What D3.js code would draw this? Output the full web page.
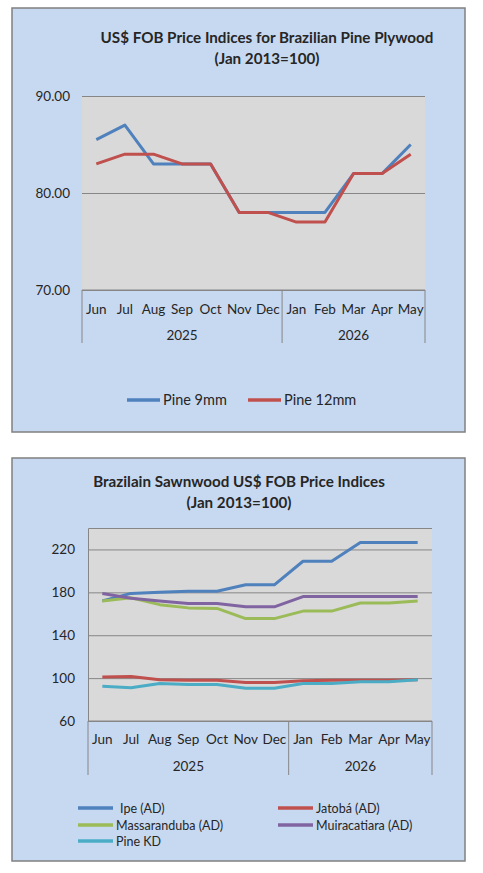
<!DOCTYPE html>
<meta charset="utf-8">
<head>
    <title>Brazil price indices</title>
    <script src="https://d3js.org/d3.v7.min.js"></script>
    <style>
    body { margin: 0; background: #fff; }
    svg text { font-family: Lato, "Open Sans", sans-serif; fill: #262626; }
    </style>
</head>
<body>
<svg id="charts"></svg>
<script>
    // shared category axis
    var months = ["Jun","Jul","Aug","Sep","Oct","Nov","Dec","Jan","Feb","Mar","Apr","May"];
    var years = [{label: "2025", from: 0, to: 7}, {label: "2026", from: 7, to: 12}];

    // plywood chart
    var plyTitle = ["US$ FOB Price Indices for Brazilian  Pine Plywood", "(Jan 2013=100)"];
    var plyTicks = [70, 80, 90];
    var pine9mm  = [85.5, 87, 83, 83, 83, 78, 78, 78, 78, 82, 82, 85];
    var pine12mm = [83, 84, 84, 83, 83, 78, 78, 77, 77, 82, 82, 84];

    // sawnwood chart
    var sawTitle = ["Brazilain Sawnwood US$ FOB Price Indices", "(Jan 2013=100)"];
    var sawTicks = [60, 100, 140, 180, 220];
    var ipe          = [172, 179, 180, 181, 181, 187, 187, 209, 209, 226.5, 226.5, 226.5];
    var jatoba       = [101, 101.5, 98.5, 98, 98, 96, 96, 97.5, 98, 98, 98, 98.5];
    var massaranduba = [172, 175, 168.5, 165.5, 165, 155.5, 155.5, 162.5, 162.5, 170, 170, 172];
    var muiracatiara = [179, 174.5, 172, 169.5, 169.5, 166.5, 166.5, 176, 176, 176, 176, 176];
    var pineKD       = [92.5, 91, 95, 94, 94, 90.5, 90.5, 95, 95, 96.5, 96.5, 98.5];

    var svg = d3.select("#charts").attr("width", 483).attr("height", 873);

    function drawChart(c) {
        var g = svg.append("g").attr("transform", "translate(" + c.box.x + "," + c.box.y + ")");
        g.append("rect").attr("width", c.box.w).attr("height", c.box.h)
            .attr("fill", "#c6d9f1").attr("stroke", "#808080").attr("stroke-width", 1.5);

        g.selectAll(".title").data(c.title).enter().append("text")
            .attr("x", c.titleX).attr("y", function(d, i) { return c.titleY + i * 21; })
            .attr("text-anchor", "middle").attr("font-weight", "bold").attr("font-size", 15.2)
            .text(function(d) { return d; });

        var x = d3.scaleBand().domain(d3.range(months.length)).range([c.plot.x0, c.plot.x1]);
        var y = d3.scaleLinear().domain(c.domain).range([c.plot.y1, c.plot.y0]);

        g.append("rect").attr("x", c.plot.x0).attr("y", c.plot.y0)
            .attr("width", c.plot.x1 - c.plot.x0).attr("height", c.plot.y1 - c.plot.y0)
            .attr("fill", "#d9d9d9");

        // gridlines + value labels
        var yAxis = d3.axisLeft(y).tickValues(c.ticks).tickSize(-(c.plot.x1 - c.plot.x0))
            .tickFormat(c.fmt).tickPadding(c.tickPad);
        var ya = g.append("g").attr("transform", "translate(" + c.plot.x0 + ",0)").call(yAxis);
        ya.select(".domain").attr("stroke", c.leftLine ? "#868686" : "none");
        ya.selectAll(".tick line").attr("stroke", "#868686").attr("stroke-width", 1);
        ya.selectAll(".tick text").attr("font-size", 13.5).style("font-family", "Lato, sans-serif").attr("fill", "#262626");

        // category axis
        g.append("line").attr("x1", c.plot.x0).attr("x2", c.plot.x1)
            .attr("y1", c.plot.y1).attr("y2", c.plot.y1).attr("stroke", "#868686");
        var dividers = [0].concat(years.map(function(d) { return d.to; }));
        g.selectAll(".div").data(dividers).enter().append("line")
            .attr("x1", function(d) { return d < months.length ? x(d) : c.plot.x1; })
            .attr("x2", function(d) { return d < months.length ? x(d) : c.plot.x1; })
            .attr("y1", c.plot.y1).attr("y2", c.plot.y1 + c.axisDepth)
            .attr("stroke", "#868686");
        g.selectAll(".mon").data(months).enter().append("text")
            .attr("x", function(d, i) { return x(i) + x.bandwidth() / 2; })
            .attr("y", c.plot.y1 + c.monthDy).attr("text-anchor", "middle").attr("font-size", 13.5)
            .text(function(d) { return d; });
        g.selectAll(".yr").data(years).enter().append("text")
            .attr("x", function(d) {
                var a = x(d.from), b = d.to < months.length ? x(d.to) : c.plot.x1;
                return (a + b) / 2;
            })
            .attr("y", c.plot.y1 + c.yearDy).attr("text-anchor", "middle").attr("font-size", 13.5)
            .text(function(d) { return d.label; });

        var line = d3.line()
            .x(function(d, i) { return x(i) + x.bandwidth() / 2; })
            .y(function(d) { return y(d); });
        g.selectAll(".series").data(c.series).enter().append("path")
            .attr("d", function(s) { return line(s.values); })
            .attr("fill", "none").attr("stroke", function(s) { return s.color; })
            .attr("stroke-width", 3).attr("stroke-linejoin", "round");

        // legend
        var lg = g.selectAll(".lg").data(c.series).enter().append("g")
            .attr("transform", function(s, i) { return "translate(" + c.legend[i][0] + "," + c.legend[i][1] + ")"; });
        lg.append("line").attr("x1", 0).attr("x2", c.legendLen).attr("y1", 0).attr("y2", 0)
            .attr("stroke", function(s) { return s.color; }).attr("stroke-width", 3.5);
        lg.append("text").attr("x", function(s) { return c.legendLen + 3 + (s.pad || 0); }).attr("y", 5)
            .attr("font-size", c.legendFont).text(function(s) { return s.name; });
    }

    drawChart({
        box: {x: 12, y: 8, w: 453, h: 424},
        title: plyTitle, titleX: 255, titleY: 35,
        plot: {x0: 70, x1: 413, y0: 88, y1: 282},
        domain: [70, 90], ticks: plyTicks, fmt: d3.format(".2f"), tickPad: 12, leftLine: false,
        axisDepth: 53, monthDy: 24, yearDy: 50,
        series: [
            {name: "Pine 9mm", values: pine9mm, color: "#4f81bd"},
            {name: "Pine 12mm", values: pine12mm, color: "#c0504d"}
        ],
        legend: [[115, 392], [236, 392]], legendLen: 33, legendFont: 14.5
    });

    drawChart({
        box: {x: 12, y: 458, w: 453, h: 403},
        title: sawTitle, titleX: 227, titleY: 29,
        plot: {x0: 76, x1: 420, y0: 70, y1: 263},
        domain: [60, 240], ticks: sawTicks, fmt: d3.format("d"), tickPad: 13, leftLine: true,
        axisDepth: 54, monthDy: 23, yearDy: 50,
        series: [
            {name: "Ipe (AD)", values: ipe, color: "#4f81bd", pad: 4},
            {name: "Jatobá (AD)", values: jatoba, color: "#c0504d"},
            {name: "Massaranduba (AD)", values: massaranduba, color: "#9bbb59"},
            {name: "Muiracatiara (AD)", values: muiracatiara, color: "#8064a2"},
            {name: "Pine KD", values: pineKD, color: "#4bacc6"}
        ],
        legend: [[66, 350], [266, 350], [66, 367], [266, 367], [66, 383]], legendLen: 35, legendFont: 12.5
    });
</script>
</body>
</html>
